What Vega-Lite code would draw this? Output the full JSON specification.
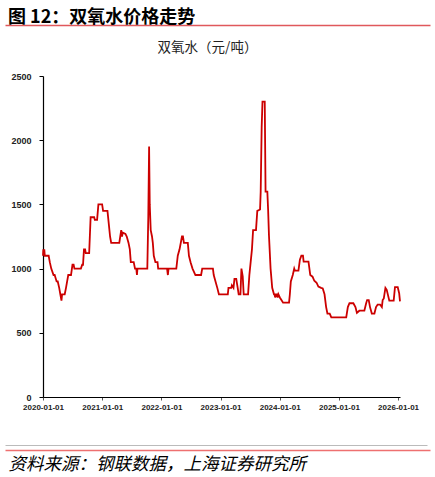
{
  "$schema": "https://vega.github.io/schema/vega-lite/v6.json",
  "width": 357,
  "height": 321,
  "autosize": {"type": "none"},
  "padding": {"left": 43, "top": 76, "right": 35, "bottom": 80},
  "background": "white",
  "title": {
    "text": "图 12：双氧水价格走势",
    "anchor": "start",
    "frame": "group",
    "dx": -35,
    "offset": -2,
    "font": "Noto Sans CJK SC",
    "fontSize": 18,
    "fontWeight": "bold",
    "color": "#000000"
  },
  "data": {
    "values": [
      {"date": "2020-01-01", "price": 1100},
      {"date": "2020-01-03", "price": 1150},
      {"date": "2020-01-06", "price": 1100},
      {"date": "2020-01-09", "price": 1150},
      {"date": "2020-01-12", "price": 1100},
      {"date": "2020-02-05", "price": 1100},
      {"date": "2020-02-12", "price": 1050},
      {"date": "2020-02-21", "price": 1000},
      {"date": "2020-03-06", "price": 950},
      {"date": "2020-03-13", "price": 950},
      {"date": "2020-03-25", "price": 900},
      {"date": "2020-04-01", "price": 900},
      {"date": "2020-04-10", "price": 850},
      {"date": "2020-04-17", "price": 800},
      {"date": "2020-04-24", "price": 750},
      {"date": "2020-04-28", "price": 800},
      {"date": "2020-05-14", "price": 800},
      {"date": "2020-05-22", "price": 850},
      {"date": "2020-05-29", "price": 900},
      {"date": "2020-06-05", "price": 950},
      {"date": "2020-06-22", "price": 950},
      {"date": "2020-07-01", "price": 1030},
      {"date": "2020-07-08", "price": 1030},
      {"date": "2020-07-13", "price": 1000},
      {"date": "2020-08-22", "price": 1000},
      {"date": "2020-08-30", "price": 1030},
      {"date": "2020-09-04", "price": 1030},
      {"date": "2020-09-10", "price": 1150},
      {"date": "2020-09-17", "price": 1150},
      {"date": "2020-09-21", "price": 1120},
      {"date": "2020-10-12", "price": 1120},
      {"date": "2020-10-21", "price": 1400},
      {"date": "2020-11-12", "price": 1400},
      {"date": "2020-11-16", "price": 1380},
      {"date": "2020-11-30", "price": 1380},
      {"date": "2020-12-08", "price": 1500},
      {"date": "2020-12-31", "price": 1500},
      {"date": "2021-01-06", "price": 1450},
      {"date": "2021-02-02", "price": 1450},
      {"date": "2021-02-10", "price": 1350},
      {"date": "2021-02-18", "price": 1250},
      {"date": "2021-02-25", "price": 1200},
      {"date": "2021-04-16", "price": 1200},
      {"date": "2021-04-22", "price": 1250},
      {"date": "2021-04-28", "price": 1300},
      {"date": "2021-05-03", "price": 1250},
      {"date": "2021-05-07", "price": 1280},
      {"date": "2021-05-24", "price": 1270},
      {"date": "2021-06-01", "price": 1250},
      {"date": "2021-06-12", "price": 1200},
      {"date": "2021-06-20", "price": 1150},
      {"date": "2021-06-26", "price": 1050},
      {"date": "2021-07-14", "price": 1050},
      {"date": "2021-07-22", "price": 1000},
      {"date": "2021-07-30", "price": 1000},
      {"date": "2021-08-03", "price": 950},
      {"date": "2021-08-06", "price": 1000},
      {"date": "2021-10-06", "price": 1000},
      {"date": "2021-10-12", "price": 1400},
      {"date": "2021-10-17", "price": 1950},
      {"date": "2021-10-21", "price": 1500},
      {"date": "2021-10-27", "price": 1300},
      {"date": "2021-11-04", "price": 1250},
      {"date": "2021-11-09", "price": 1200},
      {"date": "2021-11-15", "price": 1100},
      {"date": "2021-11-25", "price": 1050},
      {"date": "2021-12-08", "price": 1050},
      {"date": "2021-12-12", "price": 1000},
      {"date": "2022-02-05", "price": 1000},
      {"date": "2022-02-10", "price": 950},
      {"date": "2022-02-14", "price": 1000},
      {"date": "2022-04-03", "price": 1000},
      {"date": "2022-04-12", "price": 1100},
      {"date": "2022-04-23", "price": 1150},
      {"date": "2022-05-08", "price": 1250},
      {"date": "2022-05-14", "price": 1250},
      {"date": "2022-05-20", "price": 1200},
      {"date": "2022-06-13", "price": 1200},
      {"date": "2022-06-20", "price": 1100},
      {"date": "2022-06-30", "price": 1050},
      {"date": "2022-07-12", "price": 1000},
      {"date": "2022-07-30", "price": 950},
      {"date": "2022-09-03", "price": 950},
      {"date": "2022-09-10", "price": 1000},
      {"date": "2022-11-15", "price": 1000},
      {"date": "2022-11-20", "price": 950},
      {"date": "2022-12-01", "price": 900},
      {"date": "2022-12-12", "price": 850},
      {"date": "2022-12-22", "price": 800},
      {"date": "2023-02-15", "price": 800},
      {"date": "2023-02-19", "price": 850},
      {"date": "2023-03-08", "price": 850},
      {"date": "2023-03-12", "price": 870},
      {"date": "2023-03-22", "price": 850},
      {"date": "2023-03-28", "price": 920},
      {"date": "2023-04-08", "price": 920},
      {"date": "2023-04-17", "price": 850},
      {"date": "2023-04-23", "price": 800},
      {"date": "2023-05-04", "price": 800},
      {"date": "2023-05-10", "price": 1000},
      {"date": "2023-05-18", "price": 940},
      {"date": "2023-05-24", "price": 800},
      {"date": "2023-06-20", "price": 800},
      {"date": "2023-06-28", "price": 950},
      {"date": "2023-07-06", "price": 1050},
      {"date": "2023-07-14", "price": 1150},
      {"date": "2023-07-21", "price": 1300},
      {"date": "2023-08-08", "price": 1300},
      {"date": "2023-08-16", "price": 1450},
      {"date": "2023-09-02", "price": 1460},
      {"date": "2023-09-06", "price": 1600},
      {"date": "2023-09-12", "price": 2100},
      {"date": "2023-09-17", "price": 2300},
      {"date": "2023-10-01", "price": 2300},
      {"date": "2023-10-06", "price": 1600},
      {"date": "2023-10-17", "price": 1600},
      {"date": "2023-10-22", "price": 1450},
      {"date": "2023-10-27", "price": 1260},
      {"date": "2023-11-06", "price": 1000},
      {"date": "2023-11-16", "price": 850},
      {"date": "2023-11-27", "price": 800},
      {"date": "2023-12-01", "price": 800},
      {"date": "2023-12-04", "price": 775},
      {"date": "2023-12-08", "price": 800},
      {"date": "2023-12-15", "price": 800},
      {"date": "2023-12-19", "price": 775},
      {"date": "2023-12-24", "price": 800},
      {"date": "2024-01-02", "price": 775},
      {"date": "2024-01-12", "price": 755},
      {"date": "2024-01-22", "price": 735},
      {"date": "2024-02-28", "price": 735},
      {"date": "2024-03-04", "price": 800},
      {"date": "2024-03-10", "price": 900},
      {"date": "2024-03-22", "price": 950},
      {"date": "2024-03-31", "price": 1000},
      {"date": "2024-04-04", "price": 985},
      {"date": "2024-04-26", "price": 985},
      {"date": "2024-05-05", "price": 1070},
      {"date": "2024-05-14", "price": 1100},
      {"date": "2024-05-24", "price": 1100},
      {"date": "2024-05-28", "price": 1055},
      {"date": "2024-06-27", "price": 1055},
      {"date": "2024-07-08", "price": 950},
      {"date": "2024-07-22", "price": 937},
      {"date": "2024-08-02", "price": 905},
      {"date": "2024-08-16", "price": 890},
      {"date": "2024-08-27", "price": 860},
      {"date": "2024-09-13", "price": 850},
      {"date": "2024-09-23", "price": 845},
      {"date": "2024-10-04", "price": 800},
      {"date": "2024-10-14", "price": 700},
      {"date": "2024-10-22", "price": 650},
      {"date": "2024-11-05", "price": 650},
      {"date": "2024-11-15", "price": 620},
      {"date": "2025-02-15", "price": 620},
      {"date": "2025-02-25", "price": 700},
      {"date": "2025-03-07", "price": 730},
      {"date": "2025-03-31", "price": 730},
      {"date": "2025-04-13", "price": 700},
      {"date": "2025-04-22", "price": 655},
      {"date": "2025-05-07", "price": 672},
      {"date": "2025-06-07", "price": 672},
      {"date": "2025-06-18", "price": 730},
      {"date": "2025-06-24", "price": 755},
      {"date": "2025-07-04", "price": 755},
      {"date": "2025-07-12", "price": 700},
      {"date": "2025-07-23", "price": 650},
      {"date": "2025-08-08", "price": 650},
      {"date": "2025-08-18", "price": 700},
      {"date": "2025-08-28", "price": 720},
      {"date": "2025-09-12", "price": 720},
      {"date": "2025-09-23", "price": 700},
      {"date": "2025-09-28", "price": 755},
      {"date": "2025-10-05", "price": 768},
      {"date": "2025-10-15", "price": 850},
      {"date": "2025-10-23", "price": 835},
      {"date": "2025-11-08", "price": 750},
      {"date": "2025-12-05", "price": 750},
      {"date": "2025-12-13", "price": 855},
      {"date": "2025-12-30", "price": 855},
      {"date": "2026-01-08", "price": 807},
      {"date": "2026-01-13", "price": 745}
    ]
  },
  "resolve": {"scale": {"x": "independent"}, "axis": {"x": "independent"}},
  "layer": [
    {
      "mark": {"type": "line", "color": "#CC0000", "strokeWidth": 1.8, "strokeJoin": "miter"},
      "encoding": {
        "x": {
          "field": "date",
          "type": "temporal",
          "scale": {
            "type": "utc",
            "domain": [
              {"year": 2020, "month": 1, "date": 1, "utc": true},
              {"year": 2026, "month": 1, "date": 13, "utc": true}
            ]
          },
          "axis": {
            "title": null,
            "format": "%Y-%m-%d",
            "tickCount": {"interval": "year", "step": 1},
            "grid": false,
            "domainColor": "#000000",
            "domainWidth": 1.2,
            "tickColor": "#555555",
            "tickSize": 3,
            "labelFont": "Liberation Sans",
            "labelFontSize": 8,
            "labelFontWeight": "bold",
            "labelColor": "#222222",
            "labelPadding": 3,
            "labelFlush": false,
            "labelOverlap": false
          }
        },
        "y": {
          "field": "price",
          "type": "quantitative",
          "scale": {"domain": [0, 2500], "nice": false},
          "axis": {
            "title": null,
            "values": [0, 500, 1000, 1500, 2000, 2500],
            "format": "d",
            "grid": false,
            "domainColor": "#000000",
            "domainWidth": 1.2,
            "tickColor": "#000000",
            "tickSize": 4,
            "labelFont": "Liberation Sans",
            "labelFontSize": 9,
            "labelFontWeight": "bold",
            "labelColor": "#222222",
            "labelPadding": 8
          }
        }
      }
    },
    {
      "mark": {"type": "line", "strokeOpacity": 0},
      "encoding": {
        "x": {
          "field": "date",
          "type": "temporal",
          "scale": {"type": "utc", "range": [-38, 387]},
          "axis": {
            "orient": "top",
            "offset": 51,
            "ticks": false,
            "labels": false,
            "grid": false,
            "domainColor": "#E0585C",
            "domainWidth": 1.5,
            "title": "双氧水（元/吨）",
            "titleX": 164,
            "titleY": 22,
            "titleAlign": "center",
            "titleBaseline": "middle",
            "titleFont": "Noto Sans CJK SC",
            "titleFontSize": 13.5,
            "titleFontWeight": "normal",
            "titleColor": "#222222"
          }
        }
      }
    },
    {
      "mark": {"type": "line", "strokeOpacity": 0},
      "encoding": {
        "x": {
          "field": "date",
          "type": "temporal",
          "scale": {"type": "utc", "range": [-38, 384]},
          "axis": {
            "orient": "bottom",
            "offset": 48,
            "ticks": false,
            "labels": false,
            "grid": false,
            "domainColor": "#BBBBBB",
            "domainWidth": 1,
            "title": null
          }
        }
      }
    },
    {
      "mark": {"type": "line", "strokeOpacity": 0},
      "encoding": {
        "x": {
          "field": "date",
          "type": "temporal",
          "scale": {"type": "utc", "range": [-38, 387]},
          "axis": {
            "orient": "bottom",
            "offset": 53,
            "ticks": false,
            "labels": false,
            "grid": false,
            "domainColor": "#EE7070",
            "domainWidth": 1.5,
            "title": "资料来源：钢联数据，上海证券研究所",
            "titleX": -35,
            "titleY": 14,
            "titleAlign": "left",
            "titleBaseline": "middle",
            "titleFont": "Noto Sans CJK SC",
            "titleFontSize": 17.5,
            "titleFontStyle": "italic",
            "titleFontWeight": "normal",
            "titleColor": "#000000"
          }
        }
      }
    }
  ],
  "config": {
    "view": {"stroke": null}
  }
}
